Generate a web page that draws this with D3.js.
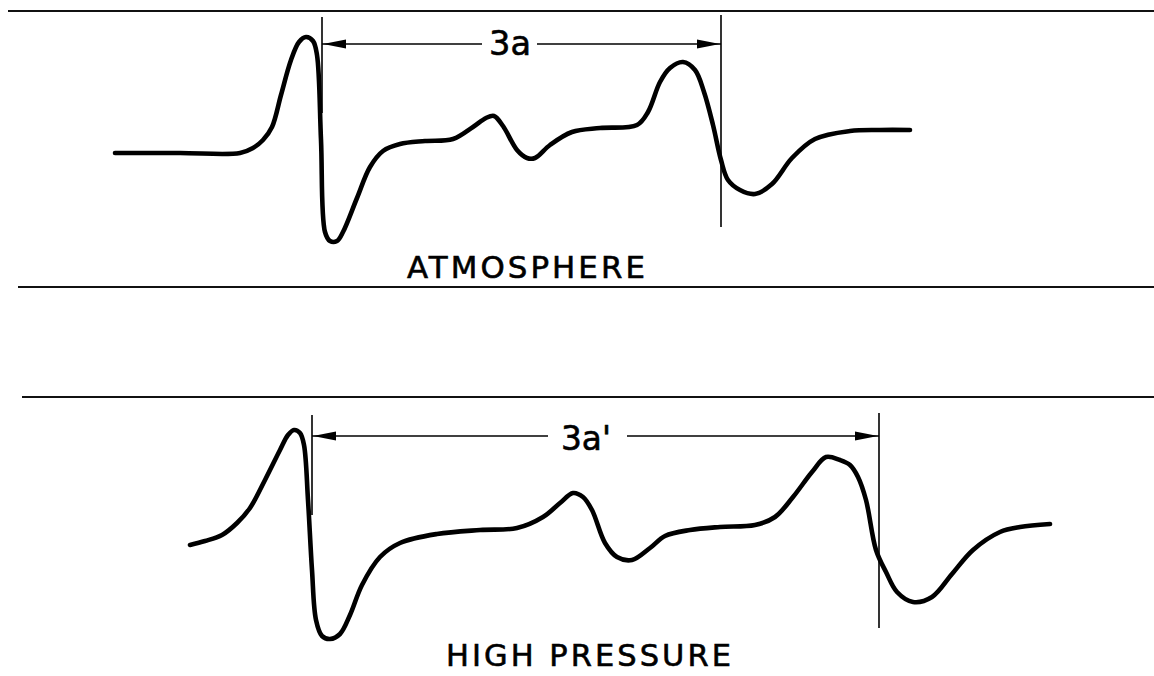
<!DOCTYPE html>
<html><head><meta charset="utf-8">
<script src="https://cdn.jsdelivr.net/npm/d3@7"></script>
<style>html,body{margin:0;padding:0;background:#fff;}svg{display:block;}</style>
</head><body>
<svg id="chart" width="1154" height="676"></svg>
<script>
// ---- data (time units along x, signal amplitude along y) ----
const atmTime = [115,180,240,253,263,272,281,291,299,306,313,317,321,325,330,337,343,357,370,383,400,425,453,473,486,494,503,517,527,535,550,572,600,637,648,660,670,683,695,704,713,721,728,740,755,772,792,815,850,880,910];
const atmAmp  = [0,0,0,5,13,26,58,93,111,116,112,98,13,-79,-88,-88,-79,-45,-14,2,9,12,14,26,35,37,27,3,-5,-5,8,21,25,28,41,71,85,91,83,61,28,-7,-27,-37,-41,-31,-5,14,22,23,23];

const hpTime = [190,205,222,237,250,265,280,288,294,300,304,308,312,316,322,330,340,350,362,380,400,437,480,517,543,560,573,583,592,605,617,632,650,665,690,720,755,775,793,812,826,840,850,858,866,876,886,897,913,932,952,973,1000,1020,1050];
const hpAmp  = [0,4,10,22,37,65,95,110,115,112,100,45,-25,-75,-91,-94,-89,-70,-40,-12,2,11,15,17,28,42,52,48,35,2,-12,-15,-3,9,15,18,20,28,48,73,88,85,80,68,45,-5,-27,-47,-57,-52,-29,-5,13,18,21];

const atmMarkers = [322, 721];
const hpMarkers  = [312, 879];
const atmSpan = "3a";
const hpSpan  = "3a'";
const atmLabel = "ATMOSPHERE";
const hpLabel  = "HIGH PRESSURE";

// ---- drawing ----
const svg = d3.select("#chart");
const x = d3.scaleLinear().domain([0,1154]).range([0,1154]);
const yAtm = d3.scaleLinear().domain([0,100]).range([153,53]);
const yHp  = d3.scaleLinear().domain([0,100]).range([545,445]);

// horizontal rules
[[8,11],[18,287],[22,397]].forEach(([x0,yy]) => {
  svg.append("line").attr("x1",x0).attr("x2",1154).attr("y1",yy).attr("y2",yy)
    .attr("stroke","#111").attr("stroke-width",2.2);
});

function panel(times, amps, ys, markers, span, label, cfg) {
  const g = svg.append("g");
  const pts = times.map((t,i)=>[t, amps[i]]);
  const line = d3.line().x(d=>x(d[0])).y(d=>ys(d[1])).curve(d3.curveCatmullRom.alpha(0.5));
  g.append("path").datum(pts).attr("d", line)
    .attr("fill","none").attr("stroke","#000").attr("stroke-width",4.6)
    .attr("stroke-linejoin","round").attr("stroke-linecap","round");
  markers.forEach((m,i)=>{
    g.append("line").attr("x1",x(m)).attr("x2",x(m))
      .attr("y1",cfg.vTop[i]).attr("y2",cfg.vBot[i])
      .attr("stroke","#000").attr("stroke-width",1.6);
  });
  const ay = cfg.arrowY;
  const xl = x(markers[0]), xr = x(markers[1]);
  g.append("line").attr("x1",xl).attr("x2",cfg.gapL).attr("y1",ay).attr("y2",ay)
    .attr("stroke","#000").attr("stroke-width",1.6);
  g.append("line").attr("x1",cfg.gapR).attr("x2",xr).attr("y1",ay).attr("y2",ay)
    .attr("stroke","#000").attr("stroke-width",1.6);
  const L = 24, H = 4.5;
  g.append("path").attr("d",`M${xl+1},${ay} L${xl+L},${ay-H} L${xl+L},${ay+H} Z`).attr("fill","#000");
  g.append("path").attr("d",`M${xr-1},${ay} L${xr-L},${ay-H} L${xr-L},${ay+H} Z`).attr("fill","#000");
  g.append("text").attr("x",cfg.spanX).attr("y",cfg.spanY)
    .attr("font-family","DejaVu Sans").attr("font-size",33)
    .attr("textLength",cfg.spanW).attr("lengthAdjust","spacingAndGlyphs")
    .attr("fill","#000").attr("stroke","#000").attr("stroke-width",0.6)
    .text(span);
  g.append("text").attr("x",cfg.labX).attr("y",cfg.labY)
    .attr("font-family","DejaVu Sans").attr("font-size",30)
    .attr("letter-spacing",3)
    .attr("textLength",cfg.labW).attr("lengthAdjust","spacingAndGlyphs")
    .attr("fill","#000").attr("stroke","#000").attr("stroke-width",0.6)
    .text(label);
}

panel(atmTime, atmAmp, yAtm, atmMarkers, atmSpan, atmLabel, {
  vTop:[17,15], vBot:[113,227], arrowY:44, gapL:482, gapR:537,
  spanX:489, spanY:55, spanW:42, labX:407, labY:278, labW:241
});
panel(hpTime, hpAmp, yHp, hpMarkers, hpSpan, hpLabel, {
  vTop:[415,413], vBot:[515,628], arrowY:436, gapL:548, gapR:627,
  spanX:561, spanY:450, spanW:50, labX:446, labY:666, labW:288
});
</script>
</body></html>
